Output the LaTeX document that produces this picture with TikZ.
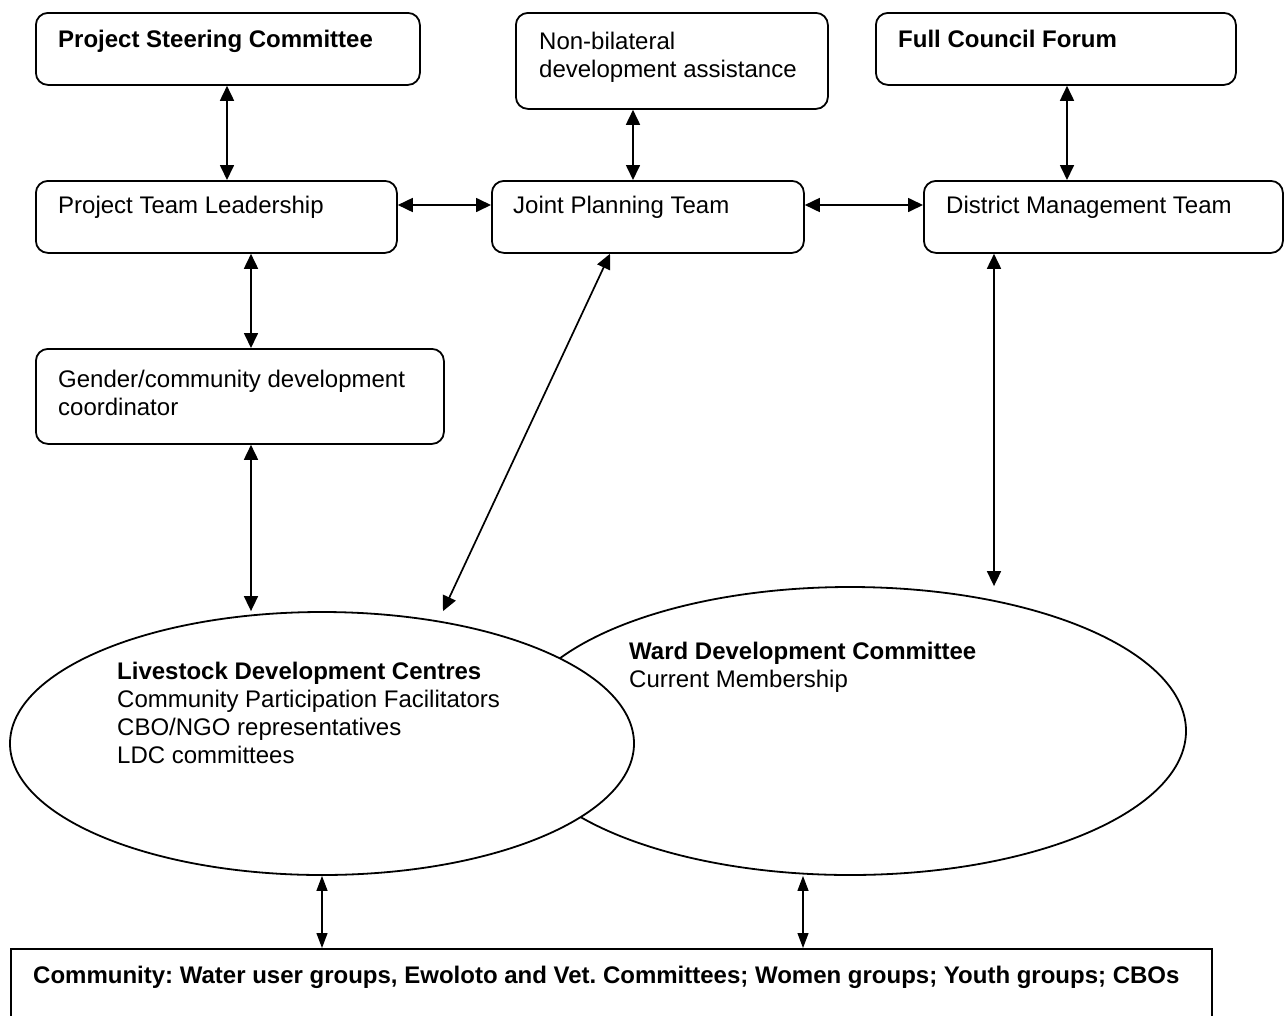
\documentclass[tikz,border=0pt]{standalone}
\usepackage{fontspec}
\setmainfont{Liberation Sans}
\usetikzlibrary{arrows.meta,shapes.geometric}
\frenchspacing
\tikzset{
  box/.style={draw, rounded corners=12pt, line width=1.8pt, inner sep=0pt, anchor=north west},
  txt/.style={anchor=base west, inner sep=0pt, align=left, font=\fontsize{24}{27.8}\selectfont},
  btxt/.style={txt, font=\fontsize{24}{27.8}\selectfont\bfseries},
  biarrow/.style={{Triangle[length=15pt,width=14pt]}-{Triangle[length=15pt,width=14pt]}, line width=1.7pt},
  thinarrow/.style={{Triangle[length=15pt,width=11pt]}-{Triangle[length=15pt,width=11pt]}, line width=1.2pt},
  oval/.style={ellipse, draw, fill=white, line width=1.8pt, inner sep=0pt}
}
\begin{document}
\begin{tikzpicture}[x=1pt,y=-1pt]
\useasboundingbox (0,0) rectangle (1285,1015);
\clip (0,0) rectangle (1285,1015);
\fill[white] (0,0) rectangle (1285,1015);
% top boxes
\node[box, minimum width=384pt, minimum height=72pt] (psc) at (35,12) {};
\node[btxt] (psct) at (58,47) {Project Steering Committee};
\node[box, minimum width=312pt, minimum height=96pt] (nbda) at (515,12) {};
\node[txt] (nbdat) at (539,77) {Non-bilateral\\development assistance};
\node[box, minimum width=360pt, minimum height=72pt] (fcf) at (875,12) {};
\node[btxt] (fcft) at (898,47) {Full Council Forum};
% middle row
\node[box, minimum width=361pt, minimum height=72pt] (ptl) at (35,180) {};
\node[txt] (ptlt) at (58,213) {Project Team Leadership};
\node[box, minimum width=312pt, minimum height=72pt] (jpt) at (491,180) {};
\node[txt] (jptt) at (513,213) {Joint Planning Team};
\node[box, minimum width=359pt, minimum height=72pt] (dmt) at (923,180) {};
\node[txt] (dmtt) at (946,213) {District Management Team};
% gender box
\node[box, minimum width=408pt, minimum height=95pt] (gcd) at (35,348) {};
\node[txt] (gcdt) at (58,415) {Gender/community development\\coordinator};
% ellipses
\node[oval, minimum width=672pt, minimum height=288pt] (wdc) at (850,731) {};
\node[oval, minimum width=624pt, minimum height=263pt] (ldc) at (322,743.5) {};
\node[txt] (ldct) at (117,763) {\textbf{Livestock Development Centres}\\Community Participation Facilitators\\CBO/NGO representatives\\LDC committees};
\node[txt] (wdct) at (629,687) {\textbf{Ward Development Committee}\\Current Membership};
% community box
\node[draw, line width=1.8pt, inner sep=0pt, anchor=north west, minimum width=1201pt, minimum height=120pt] (com) at (10,948) {};
\node[btxt] (comt) at (33,983) {Community: Water user groups, Ewoloto and Vet. Committees; Women groups; Youth groups; CBOs};
% connectors
\draw[biarrow] (227,0 |- psc.south) -- (227,0 |- ptl.north);
\draw[biarrow] (633,0 |- nbda.south) -- (633,0 |- jpt.north);
\draw[biarrow] (1067,0 |- fcf.south) -- (1067,0 |- dmt.north);
\draw[biarrow] (ptl.east |- 0,205) -- (jpt.west |- 0,205);
\draw[biarrow] (jpt.east |- 0,205) -- (dmt.west |- 0,205);
\draw[biarrow] (251,0 |- ptl.south) -- (251,0 |- gcd.north);
\draw[biarrow] (251,0 |- gcd.south) -- (251,0 |- ldc.north);
\draw[biarrow] (610,0 |- jpt.south) -- (443,0 |- ldc.north);
\draw[biarrow] (994,0 |- dmt.south) -- (994,0 |- wdc.north);
\draw[thinarrow] (ldc.south) -- (322,0 |- com.north);
\draw[thinarrow] (803,0 |- wdc.south) -- (803,0 |- com.north);
\end{tikzpicture}
\end{document}
